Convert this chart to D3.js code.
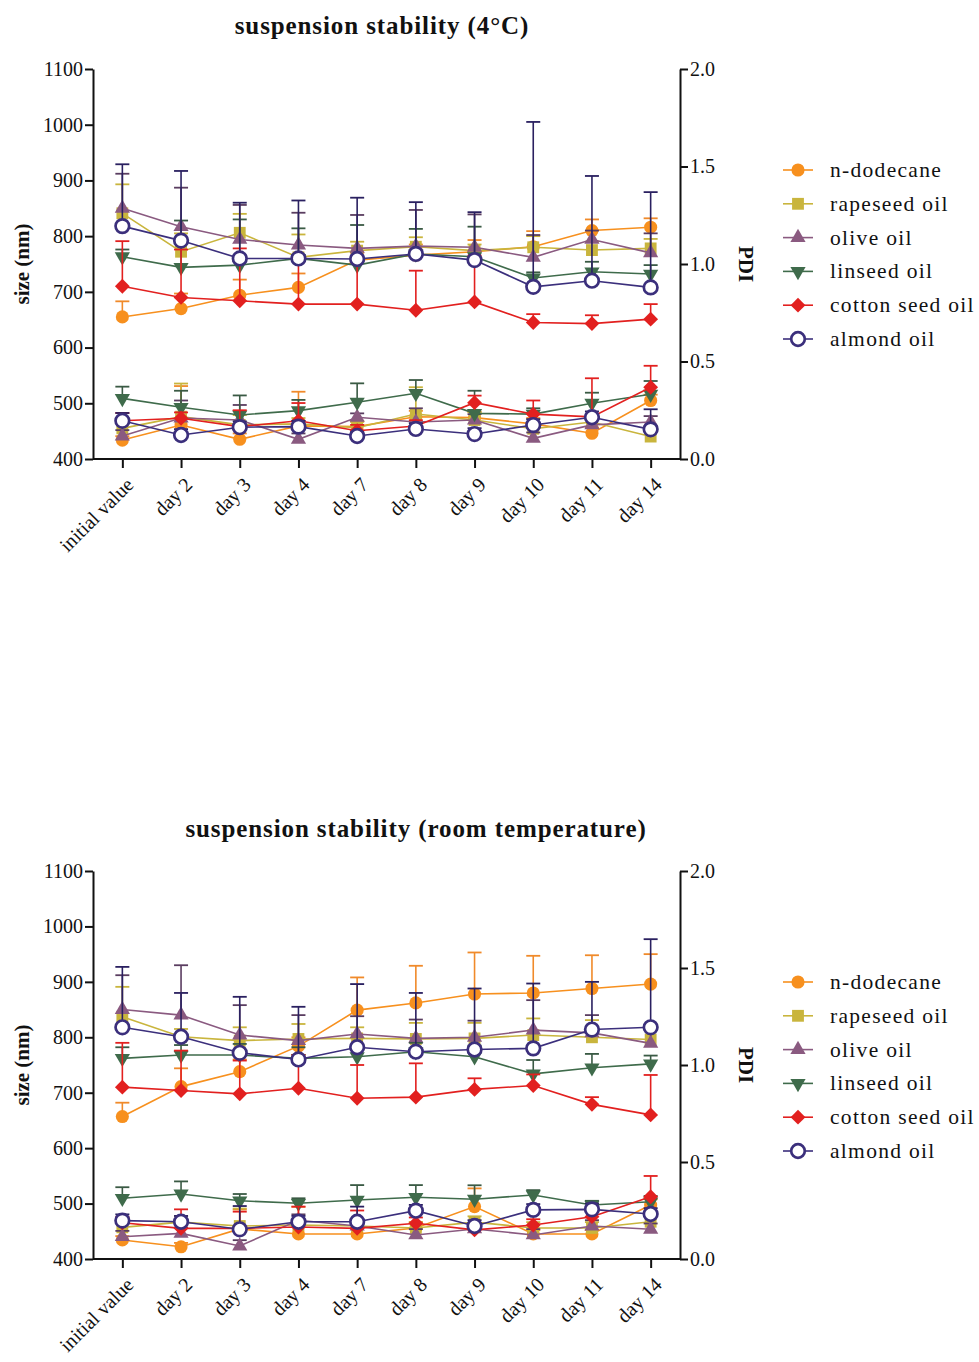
<!DOCTYPE html>
<html>
<head>
<meta charset="utf-8">
<script src="https://cdn.jsdelivr.net/npm/d3@7"></script>
<style>
  body { margin: 0; background: #fff; }
  svg text { font-family: "Liberation Serif", "Times New Roman", serif; fill: #111; }
</style>
</head>
<body>
<div id="chart"></div>
<script>
// categories and series
const days = ["initial value", "day 2", "day 3", "day 4", "day 7", "day 8", "day 9", "day 10", "day 11", "day 14"];
const oils = ["n-dodecane", "rapeseed oil", "olive oil", "linseed oil", "cotton seed oil", "almond oil"];
const sizeTicks = [400, 500, 600, 700, 800, 900, 1000, 1100];
const pdiTicks = [0, 0.5, 1.0, 1.5, 2.0];

// 4 °C : size (nm), one row per oil, and upper error
const sizeCold = [
  [655, 670, 694, 708, 757, 766, 772, 781, 810, 816],
  [841, 772, 806, 762, 774, 781, 774, 780, 775, 778],
  [850, 817, 794, 784, 778, 782, 780, 762, 794, 770],
  [763, 744, 748, 760, 748, 768, 763, 725, 736, 732],
  [710, 690, 684, 678, 678, 667, 682, 645, 643, 651],
  [818, 792, 760, 760, 759, 768, 757, 709, 720, 708]
];
const sizeColdErr = [
  [28, 27, 28, 25, 13, 19, 21, 28, 20, 16],
  [52, 33, 34, 41, 16, 17, 11, 20, 15, 17],
  [62, 70, 62, 58, 60, 65, 59, 40, 16, 35],
  [13, 84, 82, 54, 72, 45, 54, 10, 18, 16],
  [81, 86, 94, 82, 82, 71, 83, 15, 15, 27],
  [111, 125, 100, 104, 110, 93, 86, 296, 188, 171]
];
// 4 °C : PDI
const pdiCold = [
  [0.097, 0.174, 0.101, 0.170, 0.166, 0.217, 0.212, 0.180, 0.132, 0.300],
  [0.157, 0.217, 0.175, 0.180, 0.160, 0.231, 0.200, 0.155, 0.190, 0.115],
  [0.118, 0.210, 0.200, 0.101, 0.214, 0.190, 0.200, 0.106, 0.175, 0.190],
  [0.311, 0.265, 0.226, 0.248, 0.291, 0.337, 0.234, 0.230, 0.286, 0.332],
  [0.196, 0.209, 0.166, 0.196, 0.145, 0.169, 0.289, 0.230, 0.216, 0.368],
  [0.196, 0.123, 0.163, 0.166, 0.118, 0.154, 0.128, 0.174, 0.214, 0.152]
];
const pdiColdErr = [
  [0.02, 0.20, 0.03, 0.175, 0.03, 0.03, 0.03, 0.03, 0.03, 0.03],
  [0.03, 0.17, 0.05, 0.03, 0.03, 0.137, 0.04, 0.03, 0.03, 0.03],
  [0.03, 0.09, 0.077, 0.03, 0.02, 0.07, 0.03, 0.03, 0.03, 0.03],
  [0.06, 0.085, 0.10, 0.055, 0.097, 0.068, 0.116, 0.03, 0.054, 0.068],
  [0.04, 0.03, 0.084, 0.091, 0.03, 0.03, 0.036, 0.07, 0.198, 0.11],
  [0.04, 0.03, 0.03, 0.03, 0.02, 0.03, 0.03, 0.03, 0.03, 0.103]
];

// room temperature : size (nm)
const sizeRoom = [
  [657, 711, 738, 784, 849, 862, 878, 880, 888, 896],
  [837, 801, 794, 797, 798, 797, 798, 804, 800, 796],
  [850, 840, 804, 794, 806, 798, 800, 813, 808, 789],
  [762, 768, 768, 762, 765, 774, 765, 734, 745, 752],
  [710, 704, 698, 708, 690, 692, 706, 713, 679, 660],
  [818, 801, 772, 760, 782, 774, 778, 780, 814, 818]
];
const sizeRoomErr = [
  [25, 33, 22, 16, 59, 67, 75, 67, 60, 54],
  [54, 14, 24, 27, 20, 29, 28, 30, 31, 19],
  [62, 90, 54, 46, 32, 34, 30, 54, 32, 25],
  [20, 18, 20, 20, 20, 16, 20, 25, 25, 15],
  [80, 72, 60, 60, 60, 61, 20, 20, 13, 72],
  [109, 79, 101, 95, 114, 106, 110, 117, 86, 159]
];
// room temperature : PDI
const pdiRoom = [
  [0.098, 0.063, 0.155, 0.129, 0.129, 0.160, 0.270, 0.129, 0.129, 0.278],
  [0.163, 0.190, 0.170, 0.175, 0.170, 0.160, 0.190, 0.160, 0.160, 0.192],
  [0.115, 0.132, 0.067, 0.200, 0.170, 0.124, 0.155, 0.124, 0.170, 0.153],
  [0.313, 0.335, 0.300, 0.287, 0.304, 0.318, 0.308, 0.330, 0.278, 0.295],
  [0.187, 0.158, 0.158, 0.165, 0.158, 0.184, 0.150, 0.175, 0.218, 0.321],
  [0.198, 0.192, 0.153, 0.192, 0.192, 0.249, 0.170, 0.253, 0.256, 0.232]
];
const pdiRoomErr = [
  [0.02, 0.02, 0.10, 0.14, 0.03, 0.03, 0.094, 0.02, 0.02, 0.03],
  [0.03, 0.03, 0.09, 0.03, 0.03, 0.03, 0.03, 0.03, 0.03, 0.03],
  [0.03, 0.03, 0.03, 0.03, 0.03, 0.03, 0.03, 0.03, 0.03, 0.03],
  [0.057, 0.065, 0.035, 0.026, 0.077, 0.063, 0.072, 0.025, 0.022, 0.03],
  [0.03, 0.098, 0.086, 0.105, 0.092, 0.03, 0.03, 0.03, 0.03, 0.107],
  [0.032, 0.03, 0.12, 0.03, 0.078, 0.03, 0.03, 0.03, 0.03, 0.03]
];

const colors = ["#f7901e", "#c9b53d", "#8a5a80", "#3f6b4b", "#e2201f", "#3b2f7c"];
const barColors = ["#f08a2a", "#c9b53d", "#5a3d60", "#3a5a44", "#e2201f", "#2a2060"];

const svg = d3.select("#chart").append("svg")
  .attr("width", 979)
  .attr("height", 1362);

function marker(g, i, x, y) {
  const c = colors[i];
  if (i === 5) {
    g.append("circle").attr("cx", x).attr("cy", y).attr("r", 6.8)
      .attr("fill", "#fff").attr("stroke", c).attr("stroke-width", 2.7);
    return;
  }
  let type = d3.symbolCircle, size = 135, rot = 0;
  if (i === 1) { type = d3.symbolSquare; size = 140; }
  if (i === 2) { type = d3.symbolTriangle; size = 100; }
  if (i === 3) { type = d3.symbolTriangle; size = 100; rot = 180; }
  if (i === 4) { type = d3.symbolSquare; size = 110; rot = 45; }
  g.append("path")
    .attr("d", d3.symbol().type(type).size(size)())
    .attr("transform", `translate(${x},${y}) rotate(${rot})`)
    .attr("fill", c);
}

function drawChart(o) {
  const x = d3.scalePoint().domain(days).range([o.left, o.right]).padding(0.5);
  const ySize = d3.scaleLinear().domain([400, 1100]).range([o.bottom, o.top]);
  const yPdi = d3.scaleLinear().domain([0, 2]).range([o.bottom, o.top]);

  const g = svg.append("g");

  // title
  g.append("text")
    .attr("x", o.titleX).attr("y", o.titleY)
    .attr("text-anchor", "middle")
    .attr("font-size", 25).attr("font-weight", "bold")
    .attr("letter-spacing", 0.9)
    .text(o.title);

  // series: error bars, line, markers
  const groups = [
    { vals: o.size, errs: o.sizeErr, y: ySize },
    { vals: o.pdi, errs: o.pdiErr, y: yPdi }
  ];
  groups.forEach(function (grp) {
    grp.vals.forEach(function (row, i) {
      const sg = g.append("g");
      row.forEach(function (v, j) {
        const cx = x(days[j]);
        const top = grp.y(v + grp.errs[i][j]);
        sg.append("line").attr("x1", cx).attr("x2", cx)
          .attr("y1", grp.y(v)).attr("y2", top)
          .attr("stroke", barColors[i]).attr("stroke-width", 1.6);
        sg.append("line").attr("x1", cx - 7).attr("x2", cx + 7)
          .attr("y1", top).attr("y2", top)
          .attr("stroke", barColors[i]).attr("stroke-width", 1.8);
      });
      sg.append("path")
        .datum(row)
        .attr("d", d3.line().x((d, j) => x(days[j])).y((d) => grp.y(d)))
        .attr("fill", "none")
        .attr("stroke", colors[i])
        .attr("stroke-width", 1.6);
      row.forEach(function (v, j) {
        marker(sg, i, x(days[j]), grp.y(v));
      });
    });
  });

  // axes
  const axL = g.append("g").attr("transform", `translate(${o.left},0)`)
    .call(d3.axisLeft(ySize).tickValues(sizeTicks).tickFormat(d3.format("d")).tickSize(8).tickSizeOuter(0).tickPadding(2));
  const axR = g.append("g").attr("transform", `translate(${o.right},0)`)
    .call(d3.axisRight(yPdi).tickValues(pdiTicks).tickFormat(d3.format(".1f")).tickSize(8).tickSizeOuter(0).tickPadding(2));
  const axB = g.append("g").attr("transform", `translate(0,${o.bottom})`)
    .call(d3.axisBottom(x).tickSize(9).tickSizeOuter(0).tickPadding(4));
  axB.select(".domain").attr("d", `M${o.left},0H${o.right}`);

  [axL, axR, axB].forEach(function (a) {
    a.selectAll("path.domain, line").attr("stroke", "#111").attr("stroke-width", 2);
    a.selectAll("text").attr("font-size", 20).attr("font-family", "Liberation Serif").attr("fill", "#111");
  });
  axB.selectAll("text")
    .attr("font-size", 20)
    .attr("text-anchor", "end")
    .attr("transform", "translate(7,22) rotate(-45)")
    .attr("dy", "0.35em")
    .attr("y", 0).attr("x", 0);

  // axis titles
  const mid = (o.top + o.bottom) / 2;
  g.append("text")
    .attr("transform", `translate(29,${mid}) rotate(-90)`)
    .attr("text-anchor", "middle")
    .attr("font-size", 21).attr("font-weight", "bold")
    .text("size (nm)");
  g.append("text")
    .attr("transform", `translate(739,${mid}) rotate(90)`)
    .attr("text-anchor", "middle")
    .attr("font-size", 21).attr("font-weight", "bold")
    .text("PDI");

  // legend
  oils.forEach(function (name, i) {
    const ly = o.legendY + i * 33.8;
    g.append("line").attr("x1", 783).attr("x2", 813).attr("y1", ly).attr("y2", ly)
      .attr("stroke", colors[i]).attr("stroke-width", 1.6);
    marker(g, i, 798, ly);
    g.append("text").attr("x", 830).attr("y", ly).attr("dy", "0.33em")
      .attr("font-size", 21.5).attr("letter-spacing", 1.3)
      .text(name);
  });
}

drawChart({
  title: "suspension stability (4°C)", titleX: 382, titleY: 34,
  top: 69, bottom: 459, left: 93, right: 680, legendY: 170,
  size: sizeCold, sizeErr: sizeColdErr, pdi: pdiCold, pdiErr: pdiColdErr
});
drawChart({
  title: "suspension stability (room temperature)", titleX: 416, titleY: 837,
  top: 871, bottom: 1259, left: 93, right: 680, legendY: 982,
  size: sizeRoom, sizeErr: sizeRoomErr, pdi: pdiRoom, pdiErr: pdiRoomErr
});
</script>
</body>
</html>
